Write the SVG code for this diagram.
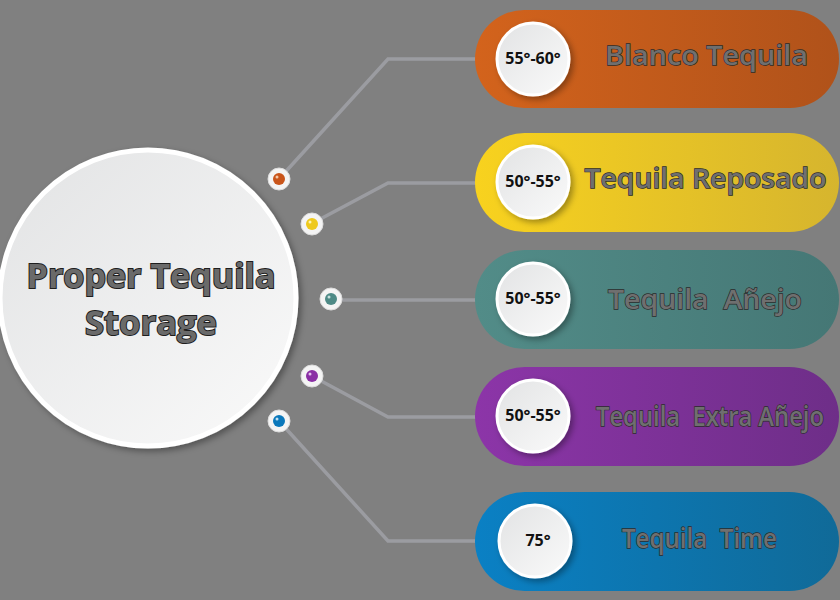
<svg xmlns="http://www.w3.org/2000/svg" width="840" height="600" viewBox="0 0 840 600">
<style>
.conn{fill:none;stroke:#9b9ca1;stroke-width:3.5;stroke-linejoin:miter}
.temp{font-family:"Open Sans","Liberation Sans",sans-serif;font-weight:700;font-size:16px;fill:#111;text-anchor:middle}
.lbl{font-family:"Open Sans","Liberation Sans",sans-serif;font-weight:600;font-size:27px;fill:#6f6f6f;stroke:#2b2b2b;stroke-width:1.3;text-anchor:middle;paint-order:stroke fill;white-space:pre}
.title{font-family:"Open Sans","Liberation Sans",sans-serif;font-weight:700;font-size:34px;fill:#6a6a6a;stroke:#1e1e1e;stroke-width:2;text-anchor:middle;paint-order:stroke fill}
.disc{fill:url(#gWhite);stroke:#ffffff;stroke-width:3}
.dotw{fill:#f4f4f4;stroke:#dcdcdc;stroke-width:1}
</style>
<defs>
<linearGradient id="gWhite" x1="0" y1="0" x2="1" y2="1">
<stop offset="0" stop-color="#e2e3e4"/><stop offset="1" stop-color="#fafafa"/>
</linearGradient>
<linearGradient id="gO" x1="0" x2="1"><stop offset="0" stop-color="#d3631c"/><stop offset="1" stop-color="#b0521a"/></linearGradient>
<linearGradient id="gY" x1="0" x2="1"><stop offset="0" stop-color="#f8d21e"/><stop offset="1" stop-color="#d6b52e"/></linearGradient>
<linearGradient id="gT" x1="0" x2="1"><stop offset="0" stop-color="#528c88"/><stop offset="1" stop-color="#457775"/></linearGradient>
<linearGradient id="gP" x1="0" x2="1"><stop offset="0" stop-color="#8c35a8"/><stop offset="1" stop-color="#6e2e88"/></linearGradient>
<linearGradient id="gB" x1="0" x2="1"><stop offset="0" stop-color="#0a80c4"/><stop offset="1" stop-color="#106a98"/></linearGradient>
<filter id="sh" x="-20%" y="-20%" width="150%" height="150%">
<feDropShadow dx="3" dy="3" stdDeviation="3" flood-color="#000" flood-opacity="0.35"/>
</filter>
</defs>
<rect width="840" height="600" fill="#808080"/>

<g id="connectors">
<polyline class="conn" points="279,179 388,59 476,59"/>
<polyline class="conn" points="311,224 388,183 476,183"/>
<polyline class="conn" points="331,300 476,300"/>
<polyline class="conn" points="312,376 388,417 476,417"/>
<polyline class="conn" points="279,421 388,541 476,541"/>
</g>

<g id="center">
<circle cx="148" cy="298" r="148" fill="url(#gWhite)" stroke="#ffffff" stroke-width="5" filter="url(#sh)"/>
<text class="title" x="151" y="288" textLength="249" lengthAdjust="spacingAndGlyphs">Proper Tequila</text>
<text class="title" x="151" y="335" textLength="132" lengthAdjust="spacingAndGlyphs">Storage</text>
</g>

<g id="dot-orange"><circle class="dotw" cx="279" cy="179" r="11"/><circle cx="279" cy="179" r="6" fill="#c9551a"/><circle cx="277" cy="177" r="1.5" fill="#f3c7a8"/></g>
<g id="dot-yellow"><circle class="dotw" cx="312" cy="224" r="11"/><circle cx="312" cy="224" r="6" fill="#eec91c"/><circle cx="310" cy="222" r="1.5" fill="#fff3b0"/></g>
<g id="dot-teal"><circle class="dotw" cx="331" cy="299" r="11"/><circle cx="331" cy="299" r="6" fill="#4e8a86"/><circle cx="329" cy="297" r="1.5" fill="#c6e0de"/></g>
<g id="dot-purple"><circle class="dotw" cx="312" cy="376" r="11"/><circle cx="312" cy="376" r="6" fill="#8a2fa5"/><circle cx="310" cy="374" r="1.5" fill="#e4c2ee"/></g>
<g id="dot-blue"><circle class="dotw" cx="279" cy="421" r="11"/><circle cx="279" cy="421" r="6" fill="#0b78bb"/><circle cx="277" cy="419" r="1.5" fill="#bfe0f4"/></g>

<g id="pill-blanco">
<rect x="475" y="10" width="364" height="98" rx="49" fill="url(#gO)"/>
<circle class="disc" cx="533" cy="59" r="36" filter="url(#sh)"/>
<text class="temp" x="533" y="64">55°-60°</text>
<text class="lbl" x="706.5" y="65" textLength="203" lengthAdjust="spacingAndGlyphs">Blanco Tequila</text>
</g>
<g id="pill-reposado">
<rect x="475" y="133" width="364" height="99" rx="49.5" fill="url(#gY)"/>
<circle class="disc" cx="533" cy="182" r="36" filter="url(#sh)"/>
<text class="temp" x="533" y="187">50°-55°</text>
<text class="lbl" x="705.5" y="188" textLength="242" lengthAdjust="spacingAndGlyphs">Tequila Reposado</text>
</g>
<g id="pill-anejo">
<rect x="475" y="250" width="364" height="99" rx="49.5" fill="url(#gT)"/>
<circle class="disc" cx="533" cy="299" r="36" filter="url(#sh)"/>
<text class="temp" x="533" y="304">50°-55°</text>
<text class="lbl" x="705" y="309" textLength="194" lengthAdjust="spacingAndGlyphs" xml:space="preserve">Tequila  Añejo</text>
</g>
<g id="pill-extra">
<rect x="475" y="367" width="364" height="99" rx="49.5" fill="url(#gP)"/>
<circle class="disc" cx="533" cy="416" r="36" filter="url(#sh)"/>
<text class="temp" x="533" y="421">50°-55°</text>
<text class="lbl" x="710" y="426" textLength="228" lengthAdjust="spacingAndGlyphs" xml:space="preserve">Tequila  Extra Añejo</text>
</g>
<g id="pill-time">
<rect x="475" y="492" width="364" height="99" rx="49.5" fill="url(#gB)"/>
<circle class="disc" cx="535" cy="541" r="36" filter="url(#sh)"/>
<text class="temp" x="538" y="546">75°</text>
<text class="lbl" x="699.5" y="548" textLength="155" lengthAdjust="spacingAndGlyphs" xml:space="preserve">Tequila  Time</text>
</g>
</svg>
